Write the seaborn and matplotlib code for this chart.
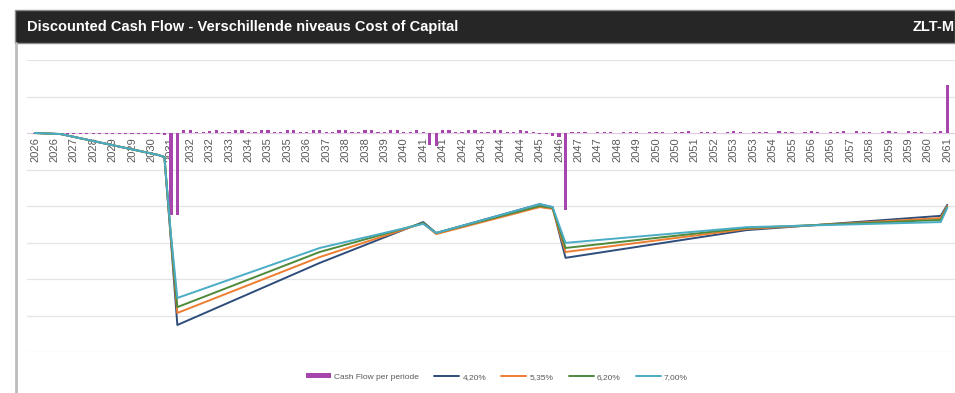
import matplotlib
matplotlib.use("Agg")
import matplotlib.pyplot as plt
import seaborn as sns
import pandas as pd
from matplotlib.patches import Rectangle
from matplotlib.lines import Line2D

# ---------------- data ----------------
title = "Discounted Cash Flow - Verschillende niveaus Cost of Capital"
title_right = "ZLT-M"

# quarter index of each period (0 = Q1 2026)
quarters = list(range(142))

# cash flow per period (nominal), one value per quarter
cash_flow = (
    [-0.02, -0.02, -0.02, -0.02]
    + [-0.04, -0.04, -0.04, -0.04, -0.04, -0.04, -0.04, -0.04,
       -0.04, -0.04, -0.04, -0.04, -0.04, -0.04, -0.04, -0.04]
    + [-0.05]
    + [-2.25, -2.24]
    + [0.07, 0.08, 0.04, 0.03, 0.06, 0.07, 0.04, 0.03, 0.08, 0.07,
       0.04, 0.03, 0.07, 0.08, 0.04, 0.03, 0.07, 0.07, 0.03, 0.04,
       0.08, 0.07, 0.03, 0.04, 0.07, 0.08, 0.04, 0.03, 0.07, 0.07,
       0.04, 0.03, 0.08, 0.07, 0.04, 0.03, 0.07, 0.04]
    + [-0.32, -0.36]
    + [0.07, 0.07, 0.03, 0.04, 0.08, 0.07, 0.04, 0.03, 0.07, 0.08,
       0.04, 0.03, 0.07, 0.06, 0.03, -0.03, -0.04]
    + [-0.08, -0.12]
    + [-2.10]
    + [0.03, 0.04, 0.03, 0.00, 0.03, 0.04, 0.03, 0.00, 0.04, 0.03,
       0.03, 0.00, 0.03, 0.04, 0.03, 0.00, 0.04, 0.03, 0.05, 0.00,
       0.03, 0.04, 0.03, 0.00, 0.04, 0.05, 0.03, 0.00, 0.04, 0.03,
       0.03, 0.00, 0.05, 0.04, 0.03, 0.00, 0.04, 0.05, 0.03, 0.00,
       0.04, 0.03, 0.05, 0.00, 0.05, 0.04, 0.03, 0.00, 0.04, 0.05,
       0.03, 0.00, 0.05, 0.04, 0.03, 0.00, 0.04, 0.05]
    + [1.31]
)

# cumulative discounted cash flow per cost-of-capital level (read at breakpoints)
line_q = [0, 4, 19, 20, 21, 22, 44, 60, 62, 78, 80, 82, 110, 140, 141]
dcf_420 = [0.00, -0.03, -0.60, -0.66, -2.93, -5.26, -3.56, -2.44, -2.74, -1.95, -2.03, -3.42, -2.66, -2.27, -1.97]
dcf_535 = [0.00, -0.03, -0.60, -0.66, -2.88, -4.93, -3.40, -2.47, -2.77, -2.03, -2.08, -3.26, -2.63, -2.33, -2.00]
dcf_620 = [0.00, -0.03, -0.60, -0.66, -2.82, -4.77, -3.26, -2.47, -2.74, -2.00, -2.05, -3.15, -2.60, -2.38, -2.03]
dcf_700 = [0.00, -0.03, -0.60, -0.66, -2.77, -4.52, -3.15, -2.49, -2.74, -1.95, -2.03, -3.01, -2.58, -2.44, -2.05]
series_labels = ["4,20%", "5,35%", "6,20%", "7,00%"]
bar_label = "Cash Flow per periode"

# category axis labels (every third quarter)
tick_q = [0, 3, 6, 9, 12, 15, 18, 21, 24, 27, 30, 33, 36, 39, 42, 45,
          48, 51, 54, 57, 60, 63, 66, 69, 72, 75, 78, 81, 84, 87, 90, 93,
          96, 99, 102, 105, 108, 111, 114, 117, 120, 123, 126, 129, 132, 135, 138, 141]
tick_labels = ["2026", "2026", "2027", "2028", "2029", "2029", "2030", "2031",
               "2032", "2032", "2033", "2034", "2035", "2035", "2036", "2037",
               "2038", "2038", "2039", "2040", "2041", "2041", "2042", "2043",
               "2044", "2044", "2045", "2046", "2047", "2047", "2048", "2049",
               "2050", "2050", "2051", "2052", "2053", "2053", "2054", "2055",
               "2056", "2056", "2057", "2058", "2059", "2059", "2060", "2061"]

# ---------------- style ----------------
sns.set_theme(style="white")
plt.rcParams["font.family"] = ["Liberation Sans", "DejaVu Sans"]

W, H = 955, 393
fig = plt.figure(figsize=(W / 100, H / 100), dpi=100)
fig.patch.set_facecolor("white")

def fx(px):
    return px / W

def fy(py):
    return 1 - py / H

ax_left, ax_right, ax_top, ax_bot = 27, 955, 60, 352
ax = fig.add_axes([fx(ax_left), fy(ax_bot), fx(ax_right - ax_left), (ax_bot - ax_top) / H])
ax.set_facecolor("white")

bar_color = "#A645AC"
line_colors = ["#2E4D7B", "#ED7D31", "#4E8A3A", "#4BACC6"]

bars_df = pd.DataFrame({"q": quarters, "cf": cash_flow})
sns.barplot(data=bars_df, x="q", y="cf", native_scale=True, width=0.5,
            color=bar_color, saturation=1, linewidth=0, ax=ax, label=bar_label, zorder=3)

for vals, lab, col in zip([dcf_420, dcf_535, dcf_620, dcf_700], series_labels, line_colors):
    df = pd.DataFrame({"q": line_q, "v": vals})
    sns.lineplot(data=df, x="q", y="v", color=col, linewidth=1.4, label=lab, ax=ax, zorder=4)

ax.set_xlim(-1.24, 142.2)
ax.set_ylim(-6, 2)
ax.set_yticks([2, 1, 0, -1, -2, -3, -4, -5, -6])
ax.set_yticklabels([])
ax.tick_params(axis="y", length=0)
ax.grid(axis="y", color="#E4E4E4", linewidth=0.9)
ax.set_axisbelow(True)
for s in ["top", "right", "left"]:
    ax.spines[s].set_visible(False)
ax.spines["bottom"].set_position(("data", 0))
ax.spines["bottom"].set_color("#E3CDE6")
ax.spines["bottom"].set_linewidth(0.8)
ax.spines["bottom"].set_zorder(2)

ax.set_xticks(tick_q)
ax.set_xticklabels(tick_labels, rotation=90, fontsize=8, color="#595959")
ax.tick_params(axis="x", length=0, pad=3)
ax.set_xlabel("")
ax.set_ylabel("")

# legend: bar first, then the lines
handles, labels = ax.get_legend_handles_labels()
if ax.get_legend():
    ax.get_legend().remove()
order = [labels.index(bar_label)] + [labels.index(s) for s in series_labels]
fig.legend([handles[i] for i in order], [labels[i] for i in order], loc="center",
           bbox_to_anchor=(fx(497), fy(377)), ncol=5,
           frameon=False, fontsize=6, handlelength=3.0, handleheight=0.5,
           columnspacing=1.8, handletextpad=0.4, labelcolor="#595959")

# title bar and chart border
fig.patches.append(Rectangle((fx(15), fy(43)), 1 - fx(15), (43 - 10) / H,
                             transform=fig.transFigure, facecolor="#262626",
                             edgecolor="#8C8C8C", linewidth=1.0, zorder=0))
fig.lines.append(Line2D([fx(16), fx(16)], [0, fy(43)], transform=fig.transFigure,
                        color="#BDBDBD", linewidth=2.0))
fig.text(fx(27), fy(27), title, color="white", fontsize=10.5, fontweight="bold",
         va="center", ha="left")
fig.text(fx(913), fy(27), title_right, color="white", fontsize=10.5, fontweight="bold",
         va="center", ha="left")

fig.savefig("out.png", dpi=100)
